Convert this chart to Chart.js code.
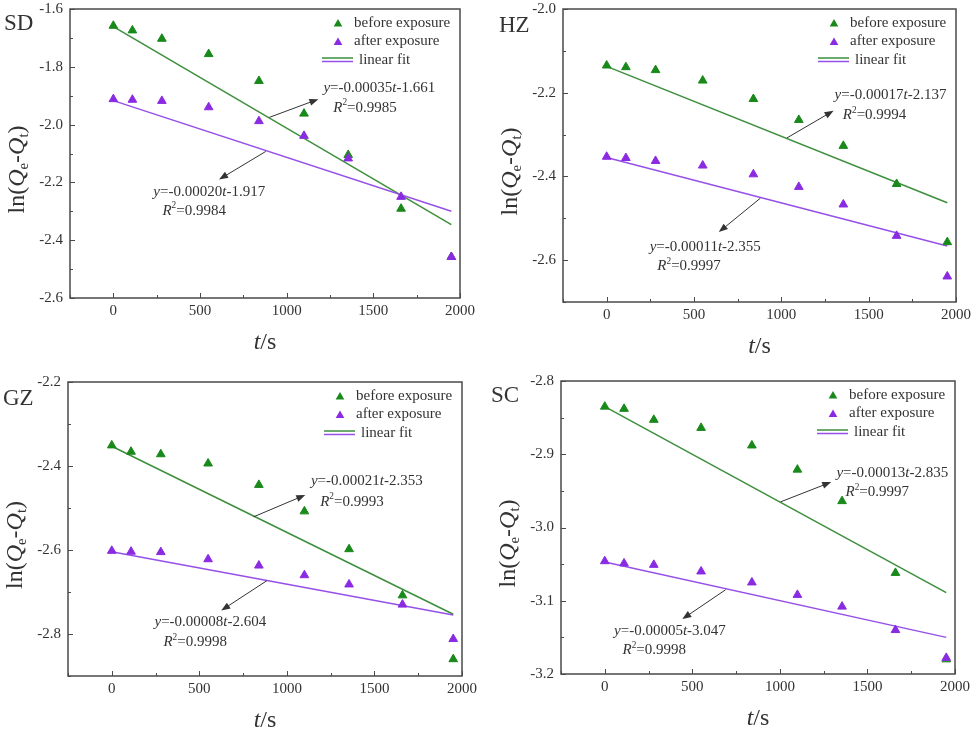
<!DOCTYPE html>
<html>
<head>
<meta charset="utf-8">
<script src="https://cdn.jsdelivr.net/npm/chart.js@4.4.0/dist/chart.umd.min.js"></script>
<style>
body { margin: 0; background: #fff; }
#wrap { position: relative; width: 974px; height: 731px; }
canvas { position: absolute; }
</style>
</head>
<body>
<div id="wrap">
<canvas id="sd" width="487" height="365" style="left:0;top:0"></canvas>
<canvas id="hz" width="487" height="365" style="left:487px;top:0"></canvas>
<canvas id="gz" width="487" height="366" style="left:0;top:365px"></canvas>
<canvas id="sc" width="487" height="366" style="left:487px;top:365px"></canvas>
</div>
<script>
// sampling times (s)
var times = [0, 110, 280, 550, 840, 1100, 1355, 1660, 1950];
var fitTimes = [0, 1950];
var xTicks = [0, 500, 1000, 1500, 2000];

// ln(Qe-Qt)
var sdBefore = [-1.658, -1.674, -1.703, -1.756, -1.849, -1.962, -2.105, -2.291, -2.458];
var sdAfter  = [-1.912, -1.914, -1.918, -1.940, -1.988, -2.039, -2.117, -2.250, -2.458];
var hzBefore = [-2.135, -2.139, -2.146, -2.171, -2.215, -2.265, -2.327, -2.418, -2.557];
var hzAfter  = [-2.353, -2.356, -2.363, -2.374, -2.395, -2.425, -2.467, -2.542, -2.639];
var gzBefore = [-2.351, -2.366, -2.372, -2.394, -2.445, -2.508, -2.598, -2.708, -2.860];
var gzAfter  = [-2.602, -2.604, -2.605, -2.622, -2.637, -2.660, -2.682, -2.730, -2.812];
var scBefore = [-2.835, -2.838, -2.853, -2.864, -2.888, -2.921, -2.964, -3.062, -3.180];
var scAfter  = [-3.046, -3.049, -3.051, -3.060, -3.075, -3.092, -3.108, -3.140, -3.178];

// linear fit end points at fitTimes
var sdFitBefore = [-1.661, -2.346];
var sdFitAfter  = [-1.917, -2.300];
var hzFitBefore = [-2.137, -2.463];
var hzFitAfter  = [-2.355, -2.566];
var gzFitBefore = [-2.353, -2.753];
var gzFitAfter  = [-2.604, -2.755];
var scFitBefore = [-2.835, -3.089];
var scFitAfter  = [-3.047, -3.150];

// fit labels: slope, intercept, R2
var sdEqBefore = ["-0.00035", "-1.661", "0.9985"];
var sdEqAfter  = ["-0.00020", "-1.917", "0.9984"];
var hzEqBefore = ["-0.00017", "-2.137", "0.9994"];
var hzEqAfter  = ["-0.00011", "-2.355", "0.9997"];
var gzEqBefore = ["-0.00021", "-2.353", "0.9993"];
var gzEqAfter  = ["-0.00008", "-2.604", "0.9998"];
var scEqBefore = ["-0.00013", "-2.835", "0.9997"];
var scEqAfter  = ["-0.00005", "-3.047", "0.9998"];

var sdYTicks = [-2.6, -2.4, -2.2, -2.0, -1.8, -1.6];
var hzYTicks = [-2.6, -2.4, -2.2, -2.0];
var gzYTicks = [-2.8, -2.6, -2.4, -2.2];
var scYTicks = [-3.2, -3.1, -3.0, -2.9, -2.8];

var SERIF = '"Liberation Serif", "Times New Roman", serif';
var GREEN = "#18891a";
var PURPLE = "#8a2be2";
var GREEN_LINE = "#3d8f3d";
var PURPLE_LINE = "#9650e8";
var INK = "#333333";

var panels = [
    {
        id: "sd", name: "SD", nameAt: [4, 30],
        yMin: -2.6, yMax: -1.6, yStep: 0.2, yTicks: sdYTicks,
        before: sdBefore, after: sdAfter, fitB: sdFitBefore, fitA: sdFitAfter,
        eqB: sdEqBefore, eqA: sdEqAfter,
        area: { l: 70, r: 460, t: 9, b: 298 },
        noteB: { from: [900, -1.975], to: [1183, -1.912], eq: [1212, -1.874], r2: [1269, -1.943] },
        noteA: { from: [879, -2.093], to: [610, -2.190], eq: [231, -2.232], r2: [283, -2.298] }
    },
    {
        id: "hz", name: "HZ", nameAt: [12, 32],
        yMin: -2.7, yMax: -2.0, yStep: 0.2, yTicks: hzYTicks,
        before: hzBefore, after: hzAfter, fitB: hzFitBefore, fitA: hzFitAfter,
        eqB: hzEqBefore, eqA: hzEqAfter,
        area: { l: 76, r: 469, t: 9, b: 302 },
        noteB: { from: [1032, -2.308], to: [1299, -2.243], eq: [1305, -2.206], r2: [1352, -2.254] },
        noteA: { from: [880, -2.452], to: [642, -2.533], eq: [246, -2.569], r2: [290, -2.615] }
    },
    {
        id: "gz", name: "GZ", nameAt: [3, 40],
        yMin: -2.9, yMax: -2.2, yStep: 0.2, yTicks: gzYTicks,
        before: gzBefore, after: gzAfter, fitB: gzFitBefore, fitA: gzFitAfter,
        eqB: gzEqBefore, eqA: gzEqAfter,
        area: { l: 68, r: 462, t: 17, b: 311 },
        noteB: { from: [810, -2.521], to: [1105, -2.469], eq: [1137, -2.437], r2: [1190, -2.485] },
        noteA: { from: [886, -2.673], to: [625, -2.744], eq: [244, -2.772], r2: [295, -2.820] }
    },
    {
        id: "sc", name: "SC", nameAt: [4, 37],
        yMin: -3.2, yMax: -2.8, yStep: 0.1, yTicks: scYTicks,
        before: scBefore, after: scAfter, fitB: scFitBefore, fitA: scFitAfter,
        eqB: scEqBefore, eqA: scEqAfter,
        area: { l: 74, r: 468, t: 16, b: 309 },
        noteB: { from: [1004, -2.965], to: [1293, -2.938], eq: [1323, -2.925], r2: [1375, -2.952] },
        noteA: { from: [690, -3.085], to: [443, -3.125], eq: [53, -3.141], r2: [101, -3.168] }
    }
];

function fnt(size, italic) {
    return (italic ? "italic " : "") + size + "px " + SERIF;
}

// draws mixed italic / sub / sup text, returns width
function drawRich(ctx, x, y, parts, size) {
    var cx = x;
    parts.forEach(function (p) {
        var s = size, dy = 0;
        if (p[1] === "sub") { s = size * 0.62; dy = size * 0.24; }
        if (p[1] === "sup") { s = size * 0.62; dy = -size * 0.34; }
        ctx.font = fnt(s, p[1] === "i");
        ctx.fillText(p[0], cx, y + dy);
        cx += ctx.measureText(p[0]).width;
    });
    return cx - x;
}

function triangle(ctx, x, y, r, color) {
    ctx.beginPath();
    ctx.moveTo(x, y - r);
    ctx.lineTo(x + 0.866 * r, y + 0.5 * r);
    ctx.lineTo(x - 0.866 * r, y + 0.5 * r);
    ctx.closePath();
    ctx.fillStyle = color;
    ctx.fill();
}

function arrow(ctx, x1, y1, x2, y2) {
    var ang = Math.atan2(y2 - y1, x2 - x1);
    ctx.strokeStyle = INK;
    ctx.fillStyle = INK;
    ctx.lineWidth = 1;
    ctx.beginPath();
    ctx.moveTo(x1, y1);
    ctx.lineTo(x2 - 6 * Math.cos(ang), y2 - 6 * Math.sin(ang));
    ctx.stroke();
    ctx.beginPath();
    ctx.moveTo(x2, y2);
    ctx.lineTo(x2 - 9 * Math.cos(ang) + 3.5 * Math.sin(ang), y2 - 9 * Math.sin(ang) - 3.5 * Math.cos(ang));
    ctx.lineTo(x2 - 9 * Math.cos(ang) - 3.5 * Math.sin(ang), y2 - 9 * Math.sin(ang) + 3.5 * Math.cos(ang));
    ctx.closePath();
    ctx.fill();
}

function makeDecor(p) {
    return {
        id: "decor_" + p.id,
        afterDraw: function (chart) {
            var ctx = chart.ctx;
            var a = chart.chartArea;
            var xs = chart.scales.x, ys = chart.scales.y;
            ctx.save();

            // frame
            ctx.strokeStyle = "#4a4a4a";
            ctx.lineWidth = 1.5;
            ctx.strokeRect(a.left, a.top, a.right - a.left, a.bottom - a.top);

            // inward ticks
            ctx.lineWidth = 1;
            ctx.beginPath();
            xTicks.forEach(function (v) {
                var px = Math.round(xs.getPixelForValue(v)) + 0.5;
                ctx.moveTo(px, a.bottom); ctx.lineTo(px, a.bottom - 5);
                var mv = v - 250;
                if (mv >= xs.min) {
                    var mx = Math.round(xs.getPixelForValue(mv)) + 0.5;
                    ctx.moveTo(mx, a.bottom); ctx.lineTo(mx, a.bottom - 3);
                }
            });
            p.yTicks.forEach(function (v) {
                var py = Math.round(ys.getPixelForValue(v)) + 0.5;
                ctx.moveTo(a.left, py); ctx.lineTo(a.left + 5, py);
                var mv = v - p.yStep / 2;
                if (mv >= p.yMin - 1e-9 && p.yTicks.indexOf(+mv.toFixed(2)) < 0) {
                    var my = Math.round(ys.getPixelForValue(mv)) + 0.5;
                    ctx.moveTo(a.left, my); ctx.lineTo(a.left + 3, my);
                }
            });
            ctx.stroke();

            // legend
            var lx = a.right - 122, ly = a.top + 14;
            triangle(ctx, lx, ly + 1, 5, GREEN);
            triangle(ctx, lx, ly + 19.5, 5, PURPLE);
            ctx.lineWidth = 1.5;
            ctx.strokeStyle = GREEN_LINE;
            ctx.beginPath(); ctx.moveTo(lx - 16, ly + 35); ctx.lineTo(lx + 15, ly + 35); ctx.stroke();
            ctx.strokeStyle = PURPLE_LINE;
            ctx.beginPath(); ctx.moveTo(lx - 16, ly + 38.5); ctx.lineTo(lx + 15, ly + 38.5); ctx.stroke();
            ctx.fillStyle = INK;
            ctx.textBaseline = "middle";
            ctx.textAlign = "left";
            ctx.font = fnt(15, false);
            ctx.fillText("before exposure", lx + 16, ly);
            ctx.fillText("after exposure", lx + 16, ly + 18.5);
            ctx.fillText("linear fit", lx + 21, ly + 37);

            // fit annotations
            [[p.noteB, p.eqB], [p.noteA, p.eqA]].forEach(function (n) {
                var note = n[0], eq = n[1];
                arrow(ctx, xs.getPixelForValue(note.from[0]), ys.getPixelForValue(note.from[1]),
                    xs.getPixelForValue(note.to[0]), ys.getPixelForValue(note.to[1]));
                ctx.fillStyle = INK;
                drawRich(ctx, xs.getPixelForValue(note.eq[0]), ys.getPixelForValue(note.eq[1]),
                    [["y", "i"], ["=" + eq[0], ""], ["t", "i"], [eq[1], ""]], 15);
                drawRich(ctx, xs.getPixelForValue(note.r2[0]), ys.getPixelForValue(note.r2[1]),
                    [["R", "i"], ["2", "sup"], ["=" + eq[2], ""]], 15);
            });

            // panel name
            ctx.textBaseline = "alphabetic";
            ctx.font = fnt(23, false);
            ctx.fillText(p.name, p.nameAt[0], p.nameAt[1]);

            // x title
            ctx.font = fnt(24, true);
            var w1 = ctx.measureText("t").width;
            ctx.font = fnt(24, false);
            var w2 = ctx.measureText("/s").width;
            var cx = (a.left + a.right) / 2 - (w1 + w2) / 2;
            drawRich(ctx, cx, a.bottom + 51, [["t", "i"], ["/s", ""]], 24);

            // y title
            var yParts = [["ln(", ""], ["Q", "i"], ["e", "sub"], ["-", ""], ["Q", "i"], ["t", "sub"], [")", ""]];
            ctx.save();
            ctx.translate(a.left - 52, (a.top + a.bottom) / 2 + 16);
            ctx.rotate(-Math.PI / 2);
            ctx.textBaseline = "middle";
            ctx.globalAlpha = 0;
            var tw = drawRich(ctx, 0, 0, yParts, 24);
            ctx.globalAlpha = 1;
            drawRich(ctx, -tw / 2, 0, yParts, 24);
            ctx.restore();

            ctx.restore();
        }
    };
}

function toPoints(xsArr, ysArr) {
    return xsArr.map(function (t, i) { return { x: t, y: ysArr[i] }; });
}

panels.forEach(function (p) {
    var canvas = document.getElementById(p.id);
    var W = canvas.width, H = canvas.height;
    new Chart(canvas.getContext("2d"), {
        type: "scatter",
        data: {
            datasets: [
                {
                    label: "after exposure",
                    data: toPoints(times, p.after),
                    pointStyle: "triangle",
                    pointRadius: 5,
                    backgroundColor: PURPLE,
                    borderColor: PURPLE,
                    borderWidth: 1
                },
                {
                    label: "before exposure",
                    data: toPoints(times, p.before),
                    pointStyle: "triangle",
                    pointRadius: 5,
                    backgroundColor: GREEN,
                    borderColor: GREEN,
                    borderWidth: 1
                },
                {
                    label: "linear fit after",
                    data: toPoints(fitTimes, p.fitA),
                    showLine: true,
                    pointRadius: 0,
                    borderColor: PURPLE_LINE,
                    borderWidth: 1.5
                },
                {
                    label: "linear fit before",
                    data: toPoints(fitTimes, p.fitB),
                    showLine: true,
                    pointRadius: 0,
                    borderColor: GREEN_LINE,
                    borderWidth: 1.5
                }
            ]
        },
        options: {
            responsive: false,
            animation: false,
            events: [],
            layout: { padding: { left: 0, top: p.area.t, right: W - p.area.r, bottom: 0 } },
            plugins: { legend: { display: false }, tooltip: { enabled: false } },
            scales: {
                x: {
                    type: "linear",
                    min: -250,
                    max: 2000,
                    afterBuildTicks: function (s) { s.ticks = xTicks.map(function (v) { return { value: v }; }); },
                    afterFit: function (s) {
                        s.height = H - p.area.b;
                        s.paddingLeft = 0; s.paddingRight = 0;
                    },
                    grid: { display: false, drawTicks: false },
                    border: { display: false },
                    ticks: {
                        font: { family: SERIF, size: 15 },
                        color: INK,
                        padding: 4,
                        maxRotation: 0,
                        autoSkip: false,
                        callback: function (v) { return String(v); }
                    }
                },
                y: {
                    type: "linear",
                    min: p.yMin,
                    max: p.yMax,
                    afterBuildTicks: function (s) { s.ticks = p.yTicks.map(function (v) { return { value: v }; }); },
                    afterFit: function (s) {
                        s.width = p.area.l;
                        s.paddingTop = 0; s.paddingBottom = 0;
                    },
                    grid: { display: false, drawTicks: false },
                    border: { display: false },
                    ticks: {
                        font: { family: SERIF, size: 15 },
                        color: INK,
                        padding: 7,
                        autoSkip: false,
                        callback: function (v) { return Number(v).toFixed(1); }
                    }
                }
            }
        },
        plugins: [makeDecor(p)]
    });
});
</script>
</body>
</html>
